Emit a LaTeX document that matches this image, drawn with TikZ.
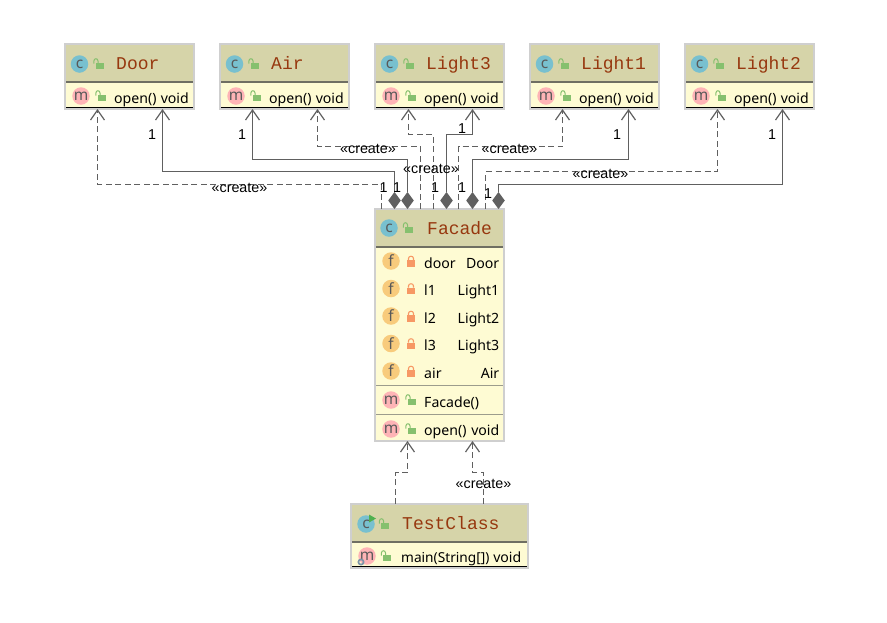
\documentclass[tikz,border=0pt]{standalone}
\usepackage{fontspec}
\usetikzlibrary{arrows.meta,shapes.geometric,calc}
\newfontfamily\memberfont{Noto Sans}
\newfontfamily\titlefont{Liberation Mono}
\newfontfamily\labelfont{Liberation Sans}
\definecolor{headc}{HTML}{D6D4A9}
\definecolor{bodyc}{HTML}{FEFBD3}
\definecolor{borderc}{HTML}{CFCFCF}
\definecolor{rulec}{HTML}{6F6F62}
\definecolor{sepc}{HTML}{9C9C8C}
\definecolor{linec}{HTML}{606060}
\definecolor{titlec}{HTML}{97380F}
\definecolor{cc}{HTML}{78C0CF}
\definecolor{mc}{HTML}{FEB4B6}
\definecolor{fc}{HTML}{F8CB7C}
\definecolor{lockg}{HTML}{86C06E}
\definecolor{lockr}{HTML}{F79864}
\definecolor{playc}{HTML}{4FB04F}
\definecolor{gearc}{HTML}{7D94A8}
\tikzset{
  x=1pt,y=-1pt,
  classbox/.style={rectangle,fill=bodyc,inner sep=0pt,outer sep=0pt},
  titletext/.style={anchor=base west,inner sep=0pt,text=titlec,font=\titlefont\fontsize{18}{20}\selectfont},
  membertext/.style={anchor=base west,inner sep=0pt,text=black,font=\memberfont\fontsize{14.1}{16}\selectfont},
  typetext/.style={membertext,anchor=base east},
  edgelabel/.style={anchor=base,inner sep=0pt,text=black,font=\labelfont\fontsize{14.3}{16}\selectfont},
  iconcirc/.style={circle,minimum size=17.5pt,inner sep=0pt,outer sep=0pt,text=#1,font=\memberfont\fontsize{15.5}{15}\selectfont},
  solidedge/.style={draw=linec,line width=1.25pt,-{Straight Barb[length=10pt,width=14pt,line width=1.2pt]}},
  dashededge/.style={draw=linec,line width=1.25pt,dash pattern=on 6pt off 3.5pt,-{Straight Barb[length=10pt,width=14pt,line width=1.2pt]}},
  compo/.style={diamond,fill=linec,minimum width=12.5pt,minimum height=17pt,inner sep=0pt,outer sep=0pt,anchor=south},
  openlock/.pic={
    \fill[lockg] (-3,-1.5) rectangle (5,5);
    \draw[lockg,line width=1pt] (-4.6,-0.5) -- (-4.6,-3) .. controls (-4.6,-6) and (-0.5,-6) .. (-0.5,-3) -- (-0.5,-1);
  },
  closedlock/.pic={
    \fill[lockr] (-4,-1) rectangle (4,5.5);
    \draw[lockr,line width=1.1pt] (-2.5,-1) -- (-2.5,-2.5) .. controls (-2.5,-5.5) and (2.5,-5.5) .. (2.5,-2.5) -- (2.5,-1);
  }
}
% id, left x, top y, width, height, header height, title, title x
\newcommand{\umlbox}[8]{%
  \node[classbox,minimum width=#4pt,minimum height=#5pt,anchor=north west] (#1) at (#2,#3) {};
  \fill[headc] (#1.north west) rectangle ($(#1.north east)+(0,#6)$);
  \draw[rulec,line width=1.6pt] ($(#1.north west)+(0,#6)$) -- ($(#1.north east)+(0,#6)$);
  \node[titletext] (#1-title) at ($(#1.north west)+(#8,25)$) {#7};
}
\newcommand{\umlborder}[1]{\draw[borderc,line width=1.4pt] (#1.north west) rectangle (#1.south east);}
% simple class with open() void
\newcommand{\simpleclass}[3]{%
  \umlbox{#1}{#2}{44}{129}{65}{38}{#3}{51}
  \draw[black,line width=1.2pt] ($(#1.south west)+(0,-1.6)$) -- ($(#1.south east)+(0,-1.6)$);
  \umlborder{#1}
  \node[iconcirc=black!65,fill=cc] (#1-c) at (#2+14.5,64) {c};
  \pic at (#2+33.5,64) {openlock};
  \node[iconcirc=black!65,fill=mc] (#1-m) at (#2+16,96) {m};
  \pic at (#2+35.5,96) {openlock};
  \node[membertext] (#1-op) at (#2+49,103) {open()};
  \node[typetext] (#1-vo) at (#2+124,103) {void};
}
% field row
\newcommand{\fieldrow}[4]{%
  \node[iconcirc=black!65,fill=fc] (#1-i) at (391,#2-7) {f};
  \pic at (411,#2-7) {closedlock};
  \node[membertext] (#1-n) at (424,#2) {#3};
  \node[typetext] (#1-t) at (499.5,#2) {#4};
}
\begin{document}
\begin{tikzpicture}
\useasboundingbox (0,0) rectangle (887,622);
\fill[white] (0,0) rectangle (887,622);

\simpleclass{door}{65}{Door}
\simpleclass{air}{220}{Air}
\simpleclass{lightthree}{375}{Light3}
\simpleclass{lightone}{530}{Light1}
\simpleclass{lighttwo}{685}{Light2}

% Facade
\umlbox{facade}{375}{209}{129}{232}{38}{Facade}{52}
\draw[sepc,line width=1pt] (375,385.5) -- (504,385.5);
\draw[sepc,line width=1pt] (375,414.5) -- (504,414.5);
\umlborder{facade}
\node[iconcirc=black!65,fill=cc] (facade-c) at (389,228) {c};
\pic at (408,228) {openlock};
\fieldrow{fd}{268}{door}{Door}
\fieldrow{fa}{295.5}{l1}{Light1}
\fieldrow{fb}{323}{l2}{Light2}
\fieldrow{fe}{350.5}{l3}{Light3}
\fieldrow{ff}{378}{air}{Air}
\node[iconcirc=black!65,fill=mc] (ctor-m) at (391,400) {m};
\pic at (410.5,400) {openlock};
\node[membertext] (ctor) at (424,407) {Facade()};
\node[iconcirc=black!65,fill=mc] (fop-m) at (391,429) {m};
\pic at (410.5,429) {openlock};
\node[membertext] (fop) at (424,435) {open()};
\node[typetext] (fvo) at (499.5,435) {void};

% TestClass
\umlbox{test}{351}{504}{177}{64}{38}{TestClass}{51}
\draw[black,line width=1.2pt] ($(test.south west)+(0,-1.2)$) -- ($(test.south east)+(0,-1.2)$);
\umlborder{test}
\node[iconcirc=black!65,fill=cc] (test-c) at (366,524) {c};
\fill[playc] (369,514.5) -- (376,518.5) -- (369,522.5) -- cycle;
\pic at (384,524) {openlock};
\node[iconcirc=black!65,fill=mc] (test-m) at (367,556) {m};
\draw[gearc,line width=1.7pt] (361,562) circle (2.6);
\pic at (386,556) {openlock};
\node[membertext,font=\memberfont\fontsize{13.7}{16}\selectfont] (test-op) at (401,562) {main(String[])};
\node[typetext] (test-vo) at (521.5,562) {void};

% composition diamonds
\node[compo] (dmdoor) at (394.5,209) {};
\node[compo] (dmair) at (407.5,209) {};
\node[compo] (dmthree) at (446.5,209) {};
\node[compo] (dmone) at (472.5,209) {};
\node[compo] (dmtwo) at (498.5,209) {};

% solid associations
\draw[solidedge] (dmdoor.north) -- (394.5,171.5) -- (162.5,171.5) -- (162.5,0 |- door.south);
\draw[solidedge] (dmair.north) -- (407.5,159.5) -- (252.5,159.5) -- (252.5,0 |- air.south);
\draw[solidedge] (dmthree.north) -- (446.5,134.5) -- (472.5,134.5) -- (472.5,0 |- lightthree.south);
\draw[solidedge] (dmone.north) -- (472.5,159.5) -- (628.5,159.5) -- (628.5,0 |- lightone.south);
\draw[solidedge] (dmtwo.north) -- (498.5,184.5) -- (782.5,184.5) -- (782.5,0 |- lighttwo.south);

% dashed create dependencies
\draw[dashededge] (381.5,0 |- facade.north) -- (381.5,184.5) -- (97.5,184.5) -- (97.5,0 |- door.south);
\draw[dashededge] (420.5,0 |- facade.north) -- (420.5,146.5) -- (317.5,146.5) -- (317.5,0 |- air.south);
\draw[dashededge] (433.5,0 |- facade.north) -- (433.5,134.5) -- (408.5,134.5) -- (408.5,0 |- lightthree.south);
\draw[dashededge] (458.5,0 |- facade.north) -- (458.5,146.5) -- (562.5,146.5) -- (562.5,0 |- lightone.south);
\draw[dashededge] (485.5,0 |- facade.north) -- (485.5,171.5) -- (717.5,171.5) -- (717.5,0 |- lighttwo.south);
\draw[dashededge] (395.5,0 |- test.north) -- (395.5,472.5) -- (407.5,472.5) -- (407.5,0 |- facade.south);
\draw[dashededge] (483.5,0 |- test.north) -- (483.5,472.5) -- (472.5,472.5) -- (472.5,0 |- facade.south);

% labels
\node[edgelabel] (l1) at (239.5,192) {«create»};
\node[edgelabel] (l2) at (368,153) {«create»};
\node[edgelabel] (l3) at (431,173) {«create»};
\node[edgelabel] (l4) at (509.5,153) {«create»};
\node[edgelabel] (l5) at (600.5,178) {«create»};
\node[edgelabel] (l6) at (483.5,488) {«create»};
\node[edgelabel] (n1) at (152,139) {1};
\node[edgelabel] (n2) at (242,139) {1};
\node[edgelabel] (n3) at (462,133) {1};
\node[edgelabel] (n4) at (617,139) {1};
\node[edgelabel] (n5) at (772,139) {1};
\node[edgelabel] (n6) at (383.5,192) {1};
\node[edgelabel] (n7) at (397,192) {1};
\node[edgelabel] (n8) at (435,192) {1};
\node[edgelabel] (n9) at (462,192) {1};
\node[edgelabel] (n10) at (488,198) {1};
\end{tikzpicture}
\end{document}
